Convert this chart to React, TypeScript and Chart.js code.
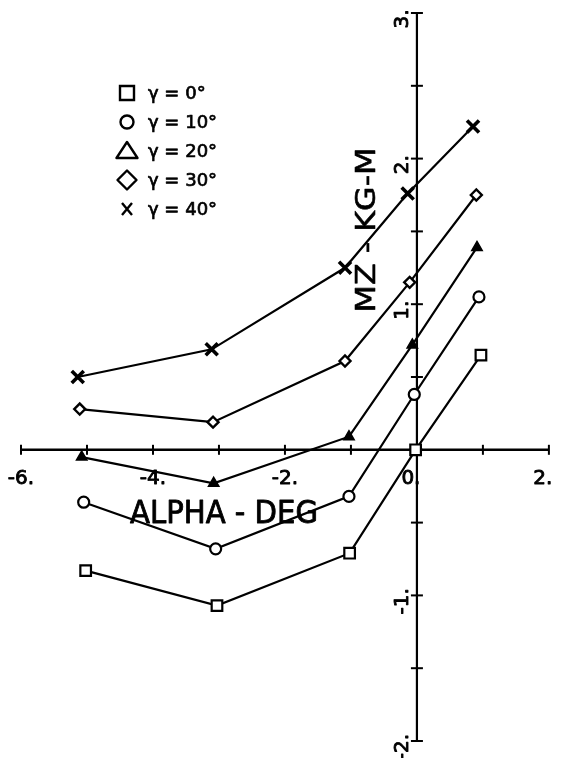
import React, { useEffect, useRef } from "react";
import { Chart, registerables } from "chart.js";

Chart.register(...registerables);

// ---- data ----
const seriesLabels = ["γ = 0°", "γ = 10°", "γ = 20°", "γ = 30°", "γ = 40°"];

const alphaG0 = [-5.02, -3.03, -1.02, -0.02, 0.97];
const mzG0 = [-0.83, -1.07, -0.71, 0.0, 0.65];

const alphaG10 = [-5.05, -3.05, -1.03, -0.04, 0.94];
const mzG10 = [-0.36, -0.68, -0.32, 0.38, 1.05];

const alphaG20 = [-5.08, -3.08, -1.03, -0.07, 0.91];
const mzG20 = [-0.05, -0.23, 0.09, 0.72, 1.39];

const alphaG30 = [-5.11, -3.09, -1.09, -0.11, 0.9];
const mzG30 = [0.28, 0.19, 0.61, 1.15, 1.75];

const alphaG40 = [-5.14, -3.11, -1.09, -0.14, 0.85];
const mzG40 = [0.5, 0.69, 1.25, 1.76, 2.22];

const xMin = -6;
const xMax = 2;
const yMin = -2;
const yMax = 3;
const xMinorTicks = [-6, -5, -4, -3, -2, -1, 0, 1, 2];
const xLabelValues = [-6, -4, -2, 0, 2];
const xLabelTexts = ["-6.", "-4.", "-2.", "0.", "2."];
const yMinorTicks = [-2, -1.5, -1, -0.5, 0, 0.5, 1, 1.5, 2, 2.5, 3];
const yLabelValues = [-2, -1, 1, 2, 3];
const yLabelTexts = ["-2.", "-1.", "1.", "2.", "3."];

const xTitle = "ALPHA - DEG";
const yTitle = "MZ - KG-M";

const toPoints = (xs: number[], ys: number[]) => xs.map((x, i) => ({ x, y: ys[i] }));

const TICK_FONT = '20px "DejaVu Sans", sans-serif';

function boldText(ctx: CanvasRenderingContext2D, text: string, x: number, y: number, w: number) {
  ctx.lineWidth = w;
  ctx.lineJoin = "round";
  ctx.fillText(text, x, y);
  ctx.strokeText(text, x, y);
}

function drawFitted(ctx: CanvasRenderingContext2D, text: string, x: number, y: number, width: number, rot: number, stroke: number) {
  ctx.save();
  ctx.translate(x, y);
  ctx.rotate(rot);
  const m = ctx.measureText(text).width;
  ctx.scale(width / m, 1);
  ctx.textAlign = "center";
  ctx.textBaseline = "alphabetic";
  boldText(ctx, text, 0, 0, stroke);
  ctx.restore();
}

const plotterPlugin = {
  id: "plotterAxes",
  beforeDatasetsDraw(chart: any) {
    const { ctx } = chart;
    const xs = chart.scales.x;
    const ys = chart.scales.y;
    const x0 = xs.getPixelForValue(0);
    const y0 = ys.getPixelForValue(0);
    ctx.save();
    ctx.strokeStyle = "#000";
    ctx.fillStyle = "#000";
    ctx.lineWidth = 2.4;
    // x axis
    ctx.beginPath();
    ctx.moveTo(xs.getPixelForValue(xMin), y0);
    ctx.lineTo(xs.getPixelForValue(xMax), y0);
    ctx.stroke();
    ctx.lineWidth = 2;
    xMinorTicks.forEach((v) => {
      const px = xs.getPixelForValue(v);
      ctx.beginPath();
      ctx.moveTo(px, y0 - 5);
      ctx.lineTo(px, y0 + 5);
      ctx.stroke();
    });
    // y axis
    ctx.lineWidth = 2.2;
    ctx.beginPath();
    ctx.moveTo(x0, ys.getPixelForValue(yMin));
    ctx.lineTo(x0, ys.getPixelForValue(yMax));
    ctx.stroke();
    ctx.lineWidth = 2;
    yMinorTicks.forEach((v) => {
      const py = ys.getPixelForValue(v);
      ctx.beginPath();
      ctx.moveTo(x0 - 6, py);
      ctx.lineTo(x0 + 6, py);
      ctx.stroke();
    });

    // tick labels
    ctx.font = TICK_FONT;
    ctx.textBaseline = "alphabetic";
    ctx.textAlign = "center";
    xLabelValues.forEach((v, i) => {
      const px = xs.getPixelForValue(v) + (v >= 0 ? -6 : 0);
      boldText(ctx, xLabelTexts[i], px, y0 + 34, 0.9);
    });
    yLabelValues.forEach((v, i) => {
      const py = ys.getPixelForValue(v) + 6;
      ctx.save();
      ctx.translate(x0 - 9, py);
      ctx.rotate(-Math.PI / 2);
      ctx.textAlign = "center";
      ctx.textBaseline = "alphabetic";
      boldText(ctx, yLabelTexts[i], 0, 0, 0.9);
      ctx.restore();
    });

    // axis titles
    ctx.font = '32px "DejaVu Sans", sans-serif';
    drawFitted(ctx, xTitle, 224, y0 + 73, 188, 0, 0);
    ctx.font = '27px "DejaVu Sans", sans-serif';
    drawFitted(ctx, yTitle, x0 - 42, 230, 165, -Math.PI / 2, 0.6);
    ctx.restore();
  },
  afterDraw(chart: any) {
    const { ctx } = chart;
    ctx.save();
    ctx.strokeStyle = "#000";
    ctx.fillStyle = "#000";
    const sx = 127;
    const top = 93;
    const step = 29;
    chart.data.datasets.forEach((ds: any, i: number) => {
      const cy = top + i * step;
      ctx.lineWidth = 2.4;
      ctx.beginPath();
      if (i === 0) {
        ctx.rect(sx - 7, cy - 7, 14, 14);
      } else if (i === 1) {
        ctx.arc(sx, cy, 6.5, 0, Math.PI * 2);
      } else if (i === 2) {
        ctx.moveTo(sx, cy - 9);
        ctx.lineTo(sx + 10.5, cy + 7);
        ctx.lineTo(sx - 10.5, cy + 7);
        ctx.closePath();
      } else if (i === 3) {
        ctx.moveTo(sx, cy - 9.5);
        ctx.lineTo(sx + 9.5, cy);
        ctx.lineTo(sx, cy + 9.5);
        ctx.lineTo(sx - 9.5, cy);
        ctx.closePath();
      } else {
        ctx.moveTo(sx - 5, cy - 6);
        ctx.lineTo(sx + 5, cy + 6);
        ctx.moveTo(sx + 5, cy - 6);
        ctx.lineTo(sx - 5, cy + 6);
      }
      ctx.stroke();
      ctx.font = '18px "DejaVu Sans", sans-serif';
      ctx.textAlign = "left";
      ctx.textBaseline = "middle";
      boldText(ctx, ds.label, 148, cy + 1, 0.7);
    });
    ctx.restore();
  },
};

export default function App() {
  const canvasRef = useRef<HTMLCanvasElement | null>(null);

  useEffect(() => {
    if (!canvasRef.current) return;
    const common = {
      showLine: true,
      borderColor: "#000",
      borderWidth: 2.2,
      pointBorderColor: "#000",
      clip: false as any,
    };
    const chart = new Chart(canvasRef.current, {
      type: "scatter",
      data: {
        datasets: [
          {
            ...common,
            label: seriesLabels[0],
            data: toPoints(alphaG0, mzG0),
            pointStyle: "rect",
            pointRadius: 7.5,
            pointBackgroundColor: "#fff",
            pointBorderWidth: 2.2,
          },
          {
            ...common,
            label: seriesLabels[1],
            data: toPoints(alphaG10, mzG10),
            pointStyle: "circle",
            pointRadius: 5.5,
            pointBackgroundColor: "#fff",
            pointBorderWidth: 2.2,
          },
          {
            ...common,
            label: seriesLabels[2],
            data: toPoints(alphaG20, mzG20),
            pointStyle: "triangle",
            pointRadius: 6,
            pointBackgroundColor: "#000",
            pointBorderWidth: 1.5,
          },
          {
            ...common,
            label: seriesLabels[3],
            data: toPoints(alphaG30, mzG30),
            pointStyle: "rectRot",
            pointRadius: 5.5,
            pointBackgroundColor: "#fff",
            pointBorderWidth: 2.4,
          },
          {
            ...common,
            label: seriesLabels[4],
            data: toPoints(alphaG40, mzG40),
            pointStyle: "crossRot",
            pointRadius: 8.5,
            pointBackgroundColor: "#000",
            pointBorderWidth: 3.6,
          },
        ],
      },
      options: {
        animation: false,
        responsive: false,
        devicePixelRatio: 1,
        layout: { padding: { left: 21, right: 1, top: 13, bottom: 17 } },
        scales: {
          x: { type: "linear", min: xMin, max: xMax, display: false },
          y: { type: "linear", min: yMin, max: yMax, display: false },
        },
        plugins: {
          legend: { display: false },
          tooltip: { enabled: false },
        },
      },
      plugins: [plotterPlugin],
    });
    return () => chart.destroy();
  }, []);

  return (
    <div style={{ position: "fixed", left: 0, top: 0, width: 561, height: 758, background: "#fff" }}>
      <canvas ref={canvasRef} width={561} height={758} style={{ display: "block", width: 561, height: 758 }} />
    </div>
  );
}
